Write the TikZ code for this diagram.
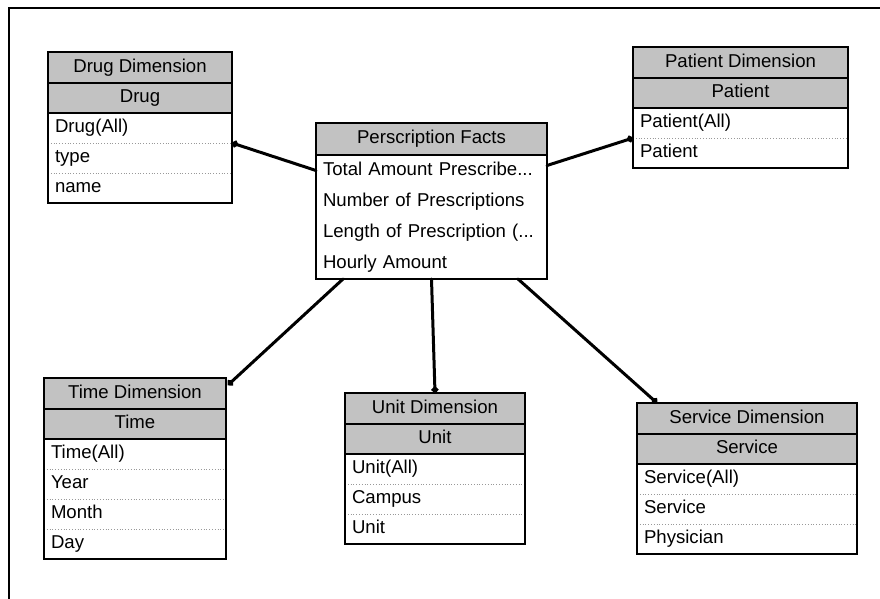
\documentclass[tikz,border=0pt]{standalone}
\usepackage{fontspec}
\setmainfont{Liberation Sans}
\usetikzlibrary{arrows.meta,fit,calc}

\tikzset{
  cell/.style={minimum height=30pt, inner sep=0pt, outer sep=0pt, anchor=north west,
    font=\fontsize{18.6}{20}\selectfont, text height=13.5pt, text depth=4pt},
  titlecell/.style={cell, fill=black!24, draw=black, line width=1.5pt, align=center},
  rowcell/.style={cell, inner xsep=7pt, align=left},
  rowsep/.style={draw=black!40, line width=0.8pt, dotted},
  tablebox/.style={draw=black, line width=2.2pt, inner sep=0pt, outer sep=0pt},
  link/.style={line width=3pt, line cap=round, -{Circle[length=6.5pt]}},
  frameline/.style={line width=1.6pt}
}

\newcommand{\trunc}{...}

% #1 name, #2 x, #3 y, #4 width, #5 title, #6 header, #7 rows, #8 number of rows
\newcommand{\DimTable}[8]{%
  \pgfmathsetmacro\tabw{#4}%
  \pgfmathsetmacro\tabtw{#4-14}%
  \node[titlecell, minimum width=\tabw pt, minimum height=31pt] (#1-t) at (#2,#3) {#5};
  \node[titlecell, minimum width=\tabw pt, alias=#1-0] (#1-h) at (#1-t.south west) {#6};
  \foreach \r [count=\i, evaluate=\i as \j using int(\i-1)] in {#7} {
    \node[rowcell, text width=\tabtw pt] (#1-\i) at (#1-\j.south west) {\r};
    \ifnum\i>1 \draw[rowsep] (#1-\i.north west) -- (#1-\i.north east);\fi
  }
  \node[tablebox, fit=(#1-t)(#1-#8)] (#1) {};
}

\begin{document}
\begin{tikzpicture}[x=1pt, y=-1pt]
  \useasboundingbox (0,0) rectangle (880,599);
  \fill[white] (0,0) rectangle (880,599);

  % page frame
  \draw[frameline] (9,599) -- (9,8) -- (880,8);

  % dimension tables
  \DimTable{drug}{48}{52}{184}{Drug Dimension}{Drug}{Drug(All),type,name}{3}
  \DimTable{patient}{633}{47}{215}{Patient Dimension}{Patient}{Patient(All),Patient}{2}
  \DimTable{time}{44}{378}{182}{Time Dimension}{Time}{Time(All),Year,Month,Day}{4}
  \DimTable{unit}{345}{393}{180}{Unit Dimension}{Unit}{Unit(All),Campus,Unit}{3}
  \DimTable{service}{637}{403}{220}{Service Dimension}{Service}{Service(All),Service,Physician}{3}

  % fact table
  \node[titlecell, minimum width=231pt, minimum height=32pt, alias=facts-0] (facts-t) at (316,123) {Perscription Facts};
  \foreach \r [count=\i, evaluate=\i as \j using int(\i-1)] in
    {Total Amount Prescribe\trunc,Number of Prescriptions,Length of Prescription (\trunc,Hourly Amount} {
    \node[rowcell, text width=217pt, minimum height=31pt] (facts-\i) at (facts-\j.south west) {\r};
  }
  \node[tablebox, fit=(facts-t)(facts-4)] (facts) {};

  % star-schema links
  \draw[link] (facts-1.west) -- (drug-2.north east);
  \draw[link] ($(facts-1.east)+(0,-5)$) -- (patient-2.north west);
  \draw[link] ($(facts.south west)+(27,0)$) -- ($(time-t.north east)+(2,7)$);
  \draw[link] (facts.south) -- (unit-t.north);
  \draw[link] ($(facts.south east)+(-29,0)$) -- ($(service-t.north west)+(20,0)$);
\end{tikzpicture}
\end{document}
